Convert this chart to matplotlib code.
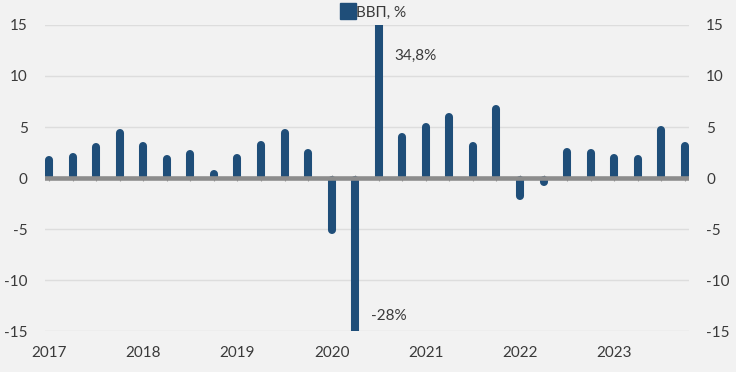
import matplotlib
matplotlib.use("Agg")
import matplotlib.pyplot as plt
from matplotlib.lines import Line2D
import numpy as np

plt.rcParams['font.family'] = ['Lato', 'Noto Sans', 'DejaVu Sans']

years = ["2017", "2018", "2019", "2020", "2021", "2022", "2023"]
gdp = [2.0, 2.3, 3.2, 4.6,
       3.3, 2.1, 2.5, 0.6,
       2.2, 3.4, 4.6, 2.6,
       -5.3, -28.0, 34.8, 4.2,
       5.2, 6.2, 3.3, 7.0,
       -2.0, -0.6, 2.7, 2.6,
       2.2, 2.1, 4.9, 3.3]
yticks = [-15, -10, -5, 0, 5, 10, 15]
series_name = "ВВП, %"
note_hi = "34,8%"
note_lo = "-28%"

bar_color = "#1F4E79"
bg = "#F2F2F2"
txt = "#3A3A3A"

fig = plt.figure(figsize=(7.36, 3.72), dpi=100, facecolor=bg)
ax = fig.add_axes([0.0611, 0.1102, 0.8746, 0.8226], facecolor=bg)

x = np.arange(len(gdp))
ax.set_xlim(-0.17, len(gdp) - 1 + 0.16)
ax.set_ylim(-15, 15)

for t in yticks:
    if t != 0:
        ax.axhline(t, color="#DDDDDD", lw=1.0, zorder=0)

lw = 5.8
# half the line width expressed in y data units (for the rounded tips)
ax_h_px = fig.get_figheight() * fig.dpi * 0.8226
cap = (lw * fig.dpi / 72 / 2) / (ax_h_px / 30.0)
for xi, v in zip(x, gdp):
    s = np.sign(v)
    tip = v + s * 0.2 - s * cap
    ax.plot([xi, xi], [s * cap * 0.5, tip], color=bar_color, lw=lw,
            solid_capstyle="round", zorder=2)

ax.axhline(0, color="#8C8C8C", lw=3.3, zorder=3)
ax.plot(x, np.zeros(len(x)), ls="", marker="|", ms=4, mew=0.8,
        color="#9A9A9A", zorder=1, clip_on=False)

for s in ax.spines.values():
    s.set_visible(False)

ax.set_yticks(yticks)
ax.set_yticklabels([str(t) for t in yticks])
ax.tick_params(axis="y", length=0, pad=12.5, labelsize=11, labelcolor=txt,
               left=True, right=True, labelleft=True, labelright=True)
ax.set_xticks(x[::4])
ax.set_xticklabels(years)
ax.tick_params(axis="x", length=0, pad=10.5, labelsize=11, labelcolor=txt)

ax.text(14 + 0.68, 12.0, note_hi, fontsize=11, color=txt, va="center", ha="left")
ax.text(13 + 0.67, -13.5, note_lo, fontsize=11, color=txt, va="center", ha="left")

handle = Line2D([], [], marker="s", ls="", color=bar_color, markersize=11)
fig.legend([handle], [series_name], loc="center", bbox_to_anchor=(0.508, 0.966),
           frameon=False, fontsize=11, handletextpad=0.1, handlelength=0.9,
           labelcolor=txt)

fig.savefig("out.png", dpi=100, facecolor=bg)
